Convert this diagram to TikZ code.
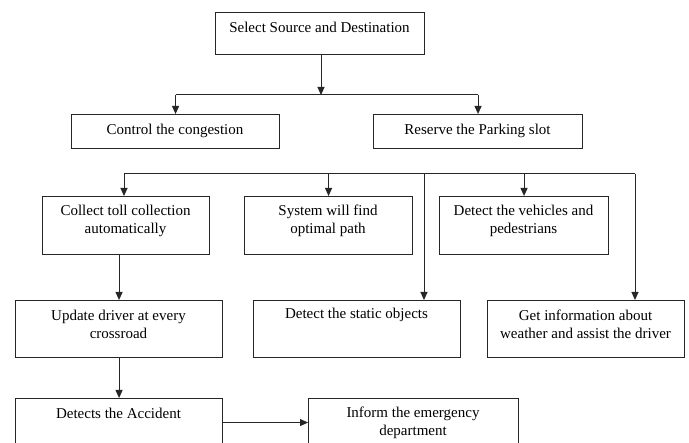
\documentclass[tikz,border=0pt]{standalone}
\usepackage{fontspec}
\setmainfont{Liberation Serif}
\usetikzlibrary{arrows.meta}
\begin{document}
\begin{tikzpicture}[x=1pt,y=-1pt,
  box/.style={draw=black!85, line width=1.1pt, inner sep=0pt, anchor=north west},
  txt/.style={inner sep=0pt, align=center, text=black, font=\fontsize{15}{18}\selectfont},
  conn/.style={draw=black!85, line width=1pt},
  arr/.style={conn, -{Triangle[length=8pt,width=7pt]}}]
\clip (0,0) rectangle (689,443);
\fill[white] (0,0) rectangle (689,443);
% boxes
\node[box, minimum width=209pt, minimum height=42pt] (top) at (215,12) {};
\node[box, minimum width=208pt, minimum height=34pt] (ctrl) at (71,114) {};
\node[box, minimum width=209pt, minimum height=34pt] (resv) at (373,114) {};
\node[box, minimum width=167pt, minimum height=58pt] (coll) at (42,196) {};
\node[box, minimum width=168pt, minimum height=58pt] (sys) at (244,196) {};
\node[box, minimum width=169pt, minimum height=58pt] (veh) at (439,196) {};
\node[box, minimum width=207pt, minimum height=57pt] (upd) at (15,300) {};
\node[box, minimum width=207pt, minimum height=57pt] (stat) at (253,300) {};
\node[box, minimum width=197pt, minimum height=57pt] (info) at (487,300) {};
\node[box, minimum width=207pt, minimum height=48pt] (acc) at (15,398) {};
\node[box, minimum width=210pt, minimum height=48pt] (emer) at (308,398) {};
% texts
\node[txt] (topT) at (319.5,27) {Select Source and Destination};
\node[txt] (ctrlT) at (175,131) {Control the congestion};
\node[txt] (resvT) at (477.5,131) {Reserve the Parking slot};
\node[txt] (collT) at (125.5,221) {Collect toll collection\\automatically};
\node[txt] (sysT) at (328,221) {System will find\\optimal path};
\node[txt] (vehT) at (523.5,221) {Detect the vehicles and\\pedestrians};
\node[txt] (updT) at (118.5,324) {Update driver at every\\crossroad};
\node[txt] (statT) at (356.5,315) {Detect the static objects};
\node[txt] (infoT) at (585.5,324) {Get information about\\weather and assist the driver};
\node[txt] (accT) at (118.5,413) {Detects the Accident};
\node[txt] (emerT) at (413,422.5) {Inform the emergency\\department};
% bus coordinates
\coordinate (bus1) at (321,95);
\coordinate (bus2) at (124,174);
\coordinate (s2) at (424,174);
\coordinate (g2) at (635,174);
% connectors
\draw[arr] (top.south -| bus1) -- (bus1);
\draw[conn] (ctrl.north |- bus1) -- (resv.north |- bus1);
\draw[arr] (ctrl.north |- bus1) -- (ctrl.north);
\draw[arr] (resv.north |- bus1) -- (resv.north);
\draw[conn] (bus2) -- (g2);
\draw[arr] (bus2) -- (bus2 |- coll.north);
\draw[arr] (sys.north |- bus2) -- (sys.north);
\draw[arr] (veh.north |- bus2) -- (veh.north);
\draw[arr] (s2) -- (s2 |- stat.north);
\draw[arr] (g2) -- (g2 |- info.north);
\draw[arr] (upd.north |- coll.south) -- (upd.north);
\draw[arr] (upd.south) -- (acc.north);
\draw[arr] (acc.east) -- (emer.west);
\end{tikzpicture}
\end{document}
